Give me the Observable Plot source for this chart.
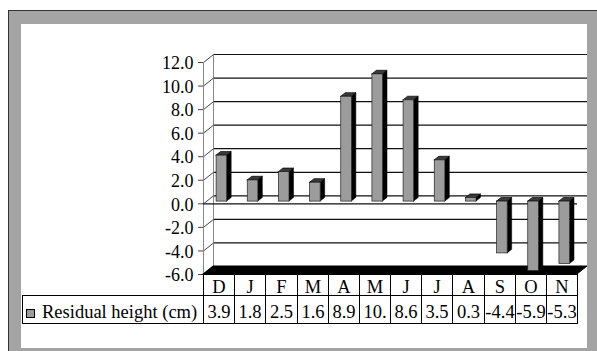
<!DOCTYPE html>
<html>
<head>
<meta charset="utf-8">
<script src="https://cdn.jsdelivr.net/npm/d3@7"></script>
<script src="https://cdn.jsdelivr.net/npm/@observablehq/plot@0.6"></script>
<style>
  html, body { margin: 0; padding: 0; background: #fff; width: 597px; height: 351px; overflow: hidden; }
  #frame { position: absolute; left: 8px; top: 10px; width: 620px; height: 370px; background: #a4a4a4;
           border-top: 1px solid #333; border-left: 1px solid #333; }
  #panel { position: absolute; left: 21px; top: 24px; width: 566px; height: 324px; background: #fff; }
  #chart { position: absolute; left: 0; top: 0; }
  #chart svg { overflow: visible; }
  .cell { position: absolute; box-sizing: border-box; border: 1px solid #000; color: #000;
          font: 18.5px "Liberation Serif", "Times New Roman", serif; text-align: center;
          white-space: nowrap; overflow: hidden; }
  .swatch { display: inline-block; width: 9px; height: 9px; box-sizing: border-box; background: #9c9c9c;
            border: 1px solid #000; margin: 0 7px 0 3px; vertical-align: 0px; }
</style>
</head>
<body>
<div id="frame"></div>
<div id="panel"><div id="chart"></div></div>
<script>
// Monthly residual heights, December through November
const months = ["D", "J", "F", "M", "A", "M", "J", "J", "A", "S", "O", "N"];
const values = [3.9, 1.8, 2.5, 1.6, 8.9, 10.8, 8.6, 3.5, 0.3, -4.4, -5.9, -5.3];
// Text shown in the data table (the May figure is cut off by its narrow column)
const valueLabels = ["3.9", "1.8", "2.5", "1.6", "8.9", "10.", "8.6", "3.5", "0.3", "-4.4", "-5.9", "-5.3"];
const yTicks = [-6, -4, -2, 0, 2, 4, 6, 8, 10, 12];
const seriesName = "Residual height (cm)";

const yMin = -6, yMax = 12;
const W = 566, ML = 182, MR = 10, MT = 38, FRAME_BOTTOM = 250;
const n = months.length;
const stepPx = (W - ML - MR) / n;
const unitPx = (FRAME_BOTTOM - MT) / (yMax - yMin);

// depth of the 3-D box in pixels, and the same depth in data units
const DEPTH = { x: 10, y: 8 };
const DX = DEPTH.x / stepPx, DY = DEPTH.y / unitPx;
// columns sit a little behind the front plane and are fairly shallow
const F0 = 0.28, FD = 0.45, BW = 0.34;

const bars = values.map((v, i) => {
  const x0 = i + 0.5 - BW / 2 + F0 * DX;
  const base = F0 * DY;
  return { i, v, x0, x1: x0 + BW, lo: Math.min(0, v) + base, hi: Math.max(0, v) + base };
});
const ex = FD * DX, ey = FD * DY;
const sideFaces = bars.flatMap(b => [
  { id: b.i, x: b.x1, y1: b.lo, y2: b.hi },
  { id: b.i, x: b.x1 + ex, y1: b.lo + ey, y2: b.hi + ey }
]);
const topFaces = bars.flatMap(b => [
  { id: b.i, x: b.x0, y1: b.hi, y2: b.hi },
  { id: b.i, x: b.x0 + ex, y1: b.hi, y2: b.hi + ey },
  { id: b.i, x: b.x1, y1: b.hi, y2: b.hi + ey },
  { id: b.i, x: b.x1 + ex, y1: b.hi + ey, y2: b.hi + ey }
]);
const floor = [
  { x: 0, y1: yMin, y2: yMin },
  { x: DX, y1: yMin, y2: yMin + DY },
  { x: n, y1: yMin, y2: yMin + DY },
  { x: n + DX, y1: yMin + DY, y2: yMin + DY }
];

const plot = Plot.plot({
  width: W,
  height: FRAME_BOTTOM + 1,
  marginLeft: ML, marginRight: MR, marginTop: MT, marginBottom: 1,
  x: { domain: [0, n], axis: null },
  y: { domain: [yMin, yMax], axis: null },
  style: { fontFamily: "'Liberation Serif', 'Times New Roman', serif", fontSize: "18px", color: "#000", background: "transparent", overflow: "visible" },
  marks: [
    // back wall: gridlines and left edge
    Plot.ruleY(yTicks.filter(t => t > yMin), { y: d => d, dx: DEPTH.x, dy: -DEPTH.y, stroke: "#111", strokeWidth: 1.2 }),
    Plot.ruleX([0], { dx: DEPTH.x, dy: -DEPTH.y, stroke: "#888" }),
    // side wall tick lines and outer stubs
    Plot.link(yTicks, { x1: 0, y1: d => d, x2: DX, y2: d => d + DY, stroke: "#444" }),
    Plot.ruleY(yTicks, { y: d => d, x1: -5 / stepPx, x2: 0, stroke: "#444" }),
    // front value axis
    Plot.ruleX([0], { stroke: "#888" }),
    Plot.text(yTicks, { x: 0, y: d => d, text: d => d.toFixed(1), textAnchor: "end", dx: -10, dy: 1, fill: "#000" }),
    // floor
    Plot.areaY(floor, { x: "x", y1: "y1", y2: "y2", fill: "#000", stroke: "#000", curve: "linear" }),
    // category axis at zero
    Plot.ruleY([0], { stroke: "#111", strokeWidth: 1.2 }),
    // columns: side face, top face, front face
    Plot.areaY(sideFaces, { x: "x", y1: "y1", y2: "y2", z: "id", fill: "#000", stroke: "#000", strokeWidth: 0.5, curve: "linear" }),
    Plot.areaY(topFaces, { x: "x", y1: "y1", y2: "y2", z: "id", fill: "#3a3a3a", stroke: "#000", strokeWidth: 0.7, curve: "linear" }),
    Plot.rect(bars, { x1: "x0", x2: "x1", y1: "lo", y2: "hi", fill: "#9c9c9c", stroke: "#222", strokeWidth: 0.7 })
  ]
});
document.getElementById("chart").appendChild(plot);

// data table underneath, aligned with the category scale
const xs = plot.scale("x");
const panel = document.getElementById("panel");
const HEAD_TOP = FRAME_BOTTOM, HEAD_H = 21, VAL_H = 28;
function cell(left, right, top, h, html, extra) {
  const d = document.createElement("div");
  d.className = "cell";
  d.style.left = left + "px";
  d.style.width = (right - left + 1) + "px";
  d.style.top = top + "px";
  d.style.height = (h + 1) + "px";
  d.style.lineHeight = (h - 1) + "px";
  Object.assign(d.style, extra || {});
  d.innerHTML = html;
  panel.appendChild(d);
}
months.forEach((m, i) => {
  const l = Math.round(xs.apply(i)), r = Math.round(xs.apply(i + 1));
  cell(l, r, HEAD_TOP, HEAD_H, m, { paddingTop: "2px" });
  cell(l, r, HEAD_TOP + HEAD_H, VAL_H, valueLabels[i], { paddingTop: "3px", textAlign: valueLabels[i].length > 3 && values[i] > 0 ? "left" : "center" });
});
cell(1, Math.round(xs.apply(0)), HEAD_TOP + HEAD_H, VAL_H,
  '<span class="swatch"></span>' + seriesName, { textAlign: "left", paddingTop: "3px" });
</script>
</body>
</html>
